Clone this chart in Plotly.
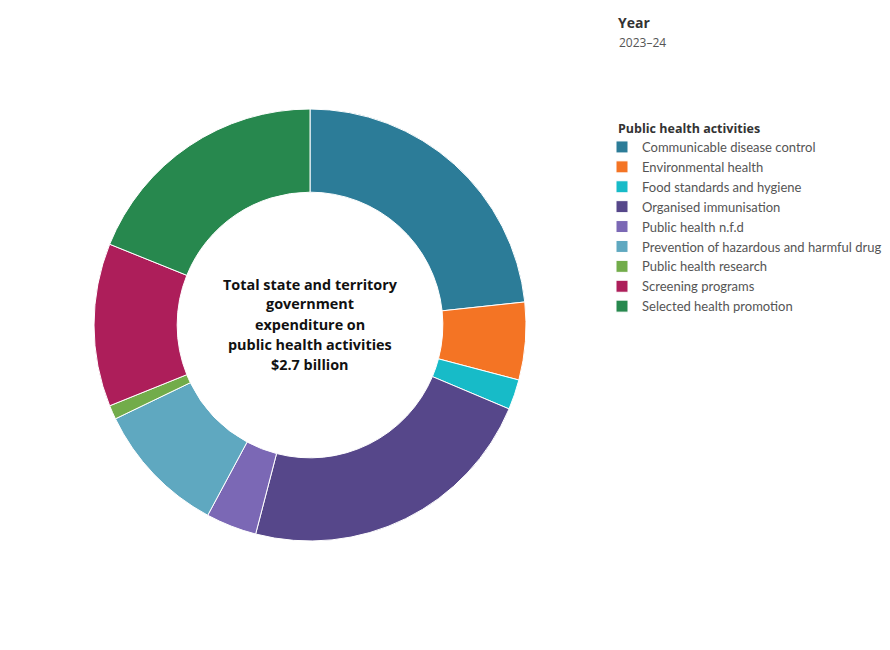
import plotly.graph_objects as go

categories = [
    "Communicable disease control",
    "Environmental health",
    "Food standards and hygiene",
    "Organised immunisation",
    "Public health n.f.d",
    "Prevention of hazardous and harmful drug",
    "Public health research",
    "Screening programs",
    "Selected health promotion",
]
shares = [23.3, 5.8, 2.25, 22.7, 3.8, 10.0, 1.05, 12.2, 18.9]
colors = ["#2C7C98", "#F47424", "#17BBC8", "#56478A", "#7B68B5",
          "#5FA8C0", "#72AC4A", "#AD1E5A", "#27884E"]
center_lines = ["Total state and territory", "government", "expenditure on",
                "public health activities", "$2.7 billion"]

W, H = 890, 650
fig = go.Figure(go.Pie(
    labels=categories, values=shares, sort=False, direction="clockwise",
    rotation=0, hole=0.615, textinfo="none",
    marker=dict(colors=colors, line=dict(color="white", width=1)),
    domain=dict(x=[94 / W, 526 / W], y=[(H - 541) / H, (H - 109) / H]),
))

for i, line in enumerate(center_lines):
    fig.add_annotation(
        x=310 / W, y=1 - (284 + 20 * i) / H, xref="paper", yref="paper",
        showarrow=False, xanchor="center", yanchor="middle",
        text=f"<b>{line}</b>",
        font=dict(family="Open Sans", size=14.4, color="#111"),
    )
fig.add_annotation(
    x=616 / W, y=1 - 23 / H, xref="paper", yref="paper", showarrow=False,
    xanchor="left", yanchor="middle",
    text="<b>Year</b>", font=dict(family="Open Sans", size=14, color="#333"),
)
fig.add_annotation(
    x=617 / W, y=1 - 42 / H, xref="paper", yref="paper", showarrow=False,
    xanchor="left", yanchor="middle",
    text="2023–24", font=dict(family="Open Sans", size=12, color="#555"),
)
fig.add_annotation(
    x=616 / W, y=1 - 128 / H, xref="paper", yref="paper", showarrow=False,
    xanchor="left", yanchor="middle",
    text="<b>Public health activities</b>",
    font=dict(family="Open Sans", size=12.5, color="#333"),
)

fig.update_layout(
    width=W, height=H, margin=dict(l=0, r=0, t=0, b=0),
    paper_bgcolor="white", plot_bgcolor="white",
    legend=dict(
        x=602 / W, y=1 - 132 / H, xanchor="left", yanchor="top",
        font=dict(family="Lato", size=13, color="#555"),
        itemwidth=30, tracegroupgap=0,
    ),
)

fig.write_html("out.html")
